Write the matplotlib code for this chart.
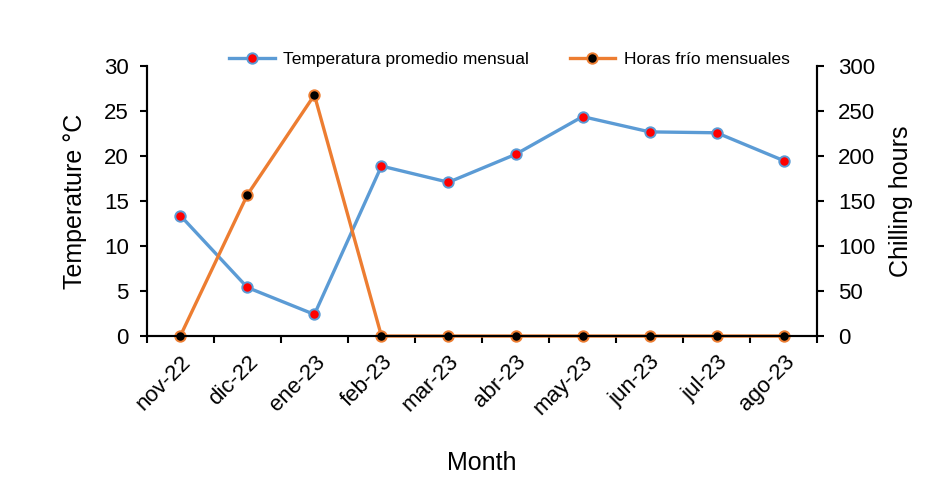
import numpy as np
import matplotlib.pyplot as plt
from matplotlib.ticker import FixedLocator

plt.rcParams["font.family"] = ["Liberation Sans", "DejaVu Sans"]

months = ["nov-22", "dic-22", "ene-23", "feb-23", "mar-23",
          "abr-23", "may-23", "jun-23", "jul-23", "ago-23"]
temperatura = [13.4, 5.4, 2.4, 18.9, 17.1, 20.2, 24.4, 22.7, 22.6, 19.5]
horas_frio = [0, 157, 268, 0, 0, 0, 0, 0, 0, 0]

BLUE = "#5B9BD5"
ORANGE = "#ED7D31"

fig = plt.figure(figsize=(9.47, 4.87), dpi=100)
ax1 = fig.add_axes([0.155, 0.31, 0.708, 0.554])
ax2 = ax1.twinx()

x = np.arange(len(months))

l1, = ax1.plot(x, temperatura, color=BLUE, lw=2.4, marker="o", ms=7.5,
               mfc="red", mec=BLUE, mew=1.4, label="Temperatura promedio mensual")
l2, = ax2.plot(x, horas_frio, color=ORANGE, lw=2.4, marker="o", ms=7.5,
               mfc="black", mec=ORANGE, mew=1.4, label="Horas frío mensuales",
               clip_on=False)

ax1.set_xlim(-0.5, len(months) - 0.5)
ax1.set_ylim(0, 30)
ax2.set_ylim(0, 300)
ax1.set_yticks(np.arange(0, 31, 5))
ax2.set_yticks(np.arange(0, 301, 50))

ax1.set_xticks(x)
ax1.set_xticklabels(months, rotation=45, ha="right", rotation_mode="anchor")
ax1.xaxis.set_minor_locator(FixedLocator(np.arange(-0.5, len(months), 1)))
ax1.tick_params(axis="x", which="major", length=0, labelsize=16, pad=11)
ax1.tick_params(axis="x", which="minor", length=5, width=1.5, direction="out")
ax1.tick_params(axis="y", length=5, width=1.5, direction="out", labelsize=16, pad=8)
ax2.tick_params(axis="y", length=5, width=1.5, direction="out", labelsize=16, pad=10)

for ax in (ax1, ax2):
    ax.spines["top"].set_visible(False)
    for s in ("left", "right", "bottom"):
        ax.spines[s].set_linewidth(1.5)

ax1.set_ylabel("Temperature °C", fontsize=18, labelpad=12)
ax2.set_ylabel("Chilling hours", fontsize=18, labelpad=10)
ax1.set_xlabel("Month", fontsize=18, labelpad=23)

fig.legend(handles=[l1, l2], loc="center", bbox_to_anchor=(0.538, 0.877),
           ncol=2, frameon=False, fontsize=12.5, handlelength=2.6,
           columnspacing=2.35, handletextpad=0.5)

fig.savefig("out.png", dpi=100)
